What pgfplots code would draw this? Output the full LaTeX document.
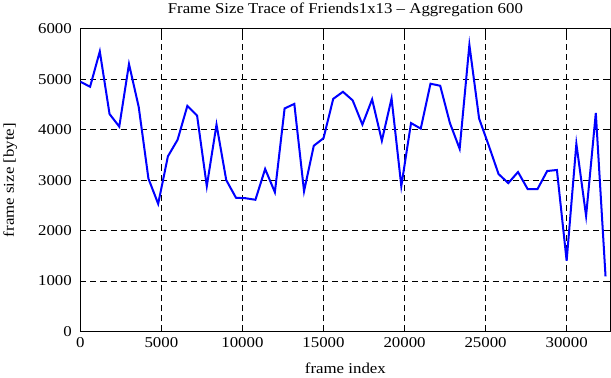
\documentclass[border=0pt]{standalone}
\usepackage{pgfplots}
\pgfplotsset{compat=1.18}
\usepackage{fontspec}
\setmainfont[FakeStretch=1.12]{Liberation Serif}
\begin{document}
\begin{tikzpicture}
\begin{axis}[
  scale only axis,
  width=527bp, height=301bp,
  xmin=0, xmax=32700, ymin=0, ymax=6000,
  xtick={0,5000,10000,15000,20000,25000,30000},
  ytick={0,1000,2000,3000,4000,5000,6000},
  /pgf/number format/assume math mode=true,
  /pgf/number format/set thousands separator={},
  scaled ticks=false,
  font=\fontsize{15}{18}\selectfont,
  tick label style={font=\fontsize{15}{18}\selectfont},
  yticklabel style={xshift=-5bp},
  xticklabel style={yshift=-2bp},
  grid=major,
  major grid style={black, dash pattern=on 6bp off 4bp, line width=0.6bp},
  tick style={black, line width=0.8bp},
  major tick length=6bp,
  tick align=inside,
  axis line style={black, line width=1.2bp},
  title={Frame Size Trace of Friends1x13 -- Aggregation 600},
  title style={yshift=2bp},
  xlabel={frame index},
  ylabel={frame size [byte]},
  xlabel style={yshift=-9bp},
  ylabel style={yshift=14bp},
]
\addplot[blue, line width=2bp, mark=none] coordinates {
(0,4950) (600,4850) (1200,5550) (1800,4310) (2400,4060) (3000,5300)
(3600,4450) (4200,3030) (4800,2530) (5400,3470) (6000,3800) (6600,4470)
(7200,4280) (7800,2880) (8400,4100) (9000,3000) (9600,2650) (10200,2640)
(10800,2610) (11400,3220) (12000,2760) (12600,4420) (13200,4510) (13800,2780)
(14400,3680) (15000,3830) (15600,4610) (16200,4750) (16800,4580) (17400,4100)
(18000,4600) (18600,3780) (19200,4620) (19800,2880) (20400,4130) (21000,4020)
(21600,4910) (22200,4870) (22800,4130) (23400,3620) (24000,5680) (24600,4220)
(25200,3680) (25800,3120) (26400,2940) (27000,3160) (27600,2820) (28200,2820)
(28800,3180) (29400,3200) (30000,1400) (30600,3720) (31200,2290) (31800,4330)
(32400,1090)
};
\end{axis}
\end{tikzpicture}
\end{document}
